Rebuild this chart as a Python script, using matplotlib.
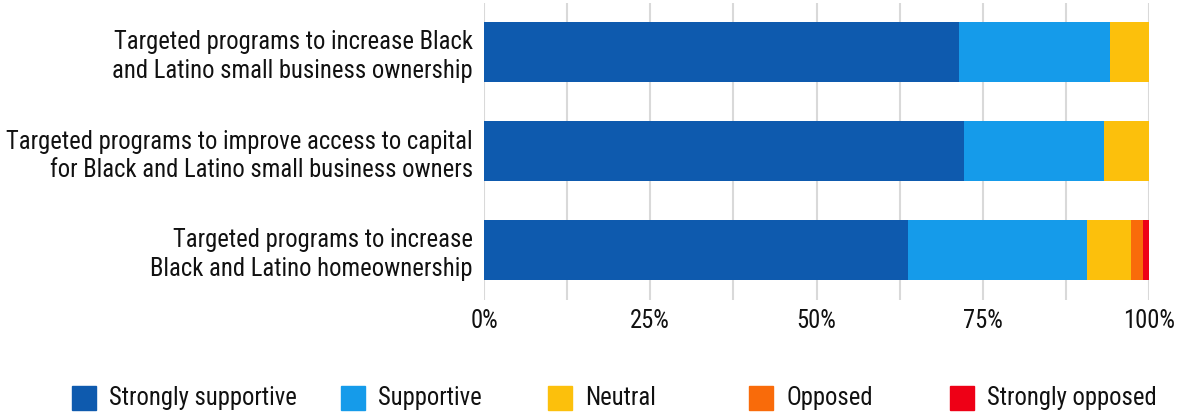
import matplotlib
matplotlib.use("Agg")
import matplotlib.pyplot as plt
from matplotlib.patches import Rectangle

plt.rcParams["font.family"] = ["Roboto Condensed", "DejaVu Sans"]

categories = [
    "Targeted programs to increase Black\nand Latino small business ownership",
    "Targeted programs to improve access to capital\nfor Black and Latino small business owners",
    "Targeted programs to increase\nBlack and Latino homeownership",
]
series_names = ["Strongly supportive", "Supportive", "Neutral", "Opposed", "Strongly opposed"]
strongly_supportive = [71.4, 72.2, 63.8]
supportive = [22.7, 21.0, 26.9]
neutral = [5.9, 6.8, 6.6]
opposed = [0.0, 0.0, 1.8]
strongly_opposed = [0.0, 0.0, 0.9]
xtick_values = [0, 25, 50, 75, 100]
xtick_labels = ["0%", "25%", "50%", "75%", "100%"]

colors = ["#0e5aae", "#159bea", "#fcc00c", "#f96b0a", "#ee0016"]
series = [strongly_supportive, supportive, neutral, opposed, strongly_opposed]

FS = 17.7
W, H = 1189, 417
fig = plt.figure(figsize=(W / 100, H / 100), dpi=100)
ax = fig.add_axes([484 / W, 1 - 299.5 / H, (1149 - 484) / W, 297 / H])

ypos = list(range(len(categories)))
left = [0.0] * len(categories)
for vals, col, name in zip(series, colors, series_names):
    ax.barh(ypos, vals, left=left, height=0.61, color=col, label=name, zorder=2)
    left = [l + v for l, v in zip(left, vals)]

ax.set_xlim(0, 100)
ax.set_ylim(2.5, -0.5)
ax.set_yticks(ypos)
ax.set_yticklabels(categories, fontsize=FS, color="#111111", linespacing=1.25)
ax.set_xticks(xtick_values)
ax.set_xticklabels(xtick_labels, fontsize=FS, color="#111111")
ax.set_xticks([12.5, 37.5, 62.5, 87.5], minor=True)
ax.tick_params(axis="y", length=0, pad=8)
ax.tick_params(axis="x", which="both", length=0, pad=7)
ax.grid(axis="x", which="both", color="#d9d9d9", linewidth=1.5, zorder=0)
for s in ax.spines.values():
    s.set_visible(False)

# legend
sq_x = [72, 341, 548, 749, 950]
for x, col, name in zip(sq_x, colors, series_names):
    fig.patches.append(Rectangle((x / W, 1 - 410 / H), 24 / W, 24 / H,
                                 transform=fig.transFigure, color=col))
    fig.text((x + 37) / W, 1 - 398 / H, name, fontsize=FS, color="#111111",
             va="center", ha="left")

fig.savefig("out.png", dpi=100)
